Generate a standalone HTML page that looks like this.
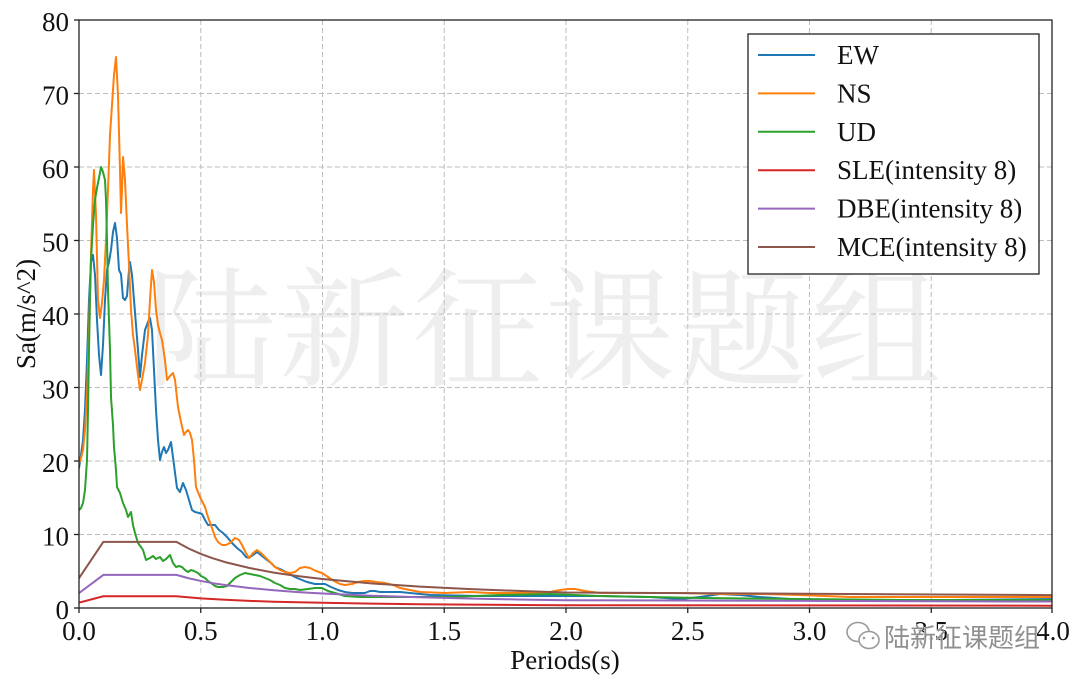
<!DOCTYPE html>
<html>
<head>
<meta charset="utf-8">
<style>
html,body{margin:0;padding:0;background:#fff;}
svg{display:block;}
text{font-family:"Liberation Serif","Noto Serif CJK SC",serif;fill:#111;}
.cjk{font-family:"Liberation Sans","Noto Sans CJK SC",sans-serif;}
.wm{font-family:"Liberation Serif","Noto Serif CJK SC",serif;}
</style>
</head>
<body>
<svg width="1080" height="686" viewBox="0 0 1080 686" xmlns="http://www.w3.org/2000/svg">
<rect x="0" y="0" width="1080" height="686" fill="#fff"/>
<defs>
<clipPath id="pc"><rect x="79" y="20" width="973" height="588"/></clipPath>
</defs>

<!-- watermark -->
<text class="wm" x="146" y="376" font-size="130" style="fill:#eeeeee" letter-spacing="3">陆新征课题组</text>

<!-- grid -->
<g stroke="#bdbdbd" stroke-width="1" stroke-dasharray="5,3" fill="none">
<line x1="200.75" y1="20" x2="200.75" y2="608"/>
<line x1="322.5" y1="20" x2="322.5" y2="608"/>
<line x1="444.25" y1="20" x2="444.25" y2="608"/>
<line x1="566" y1="20" x2="566" y2="608"/>
<line x1="687.75" y1="20" x2="687.75" y2="608"/>
<line x1="809.5" y1="20" x2="809.5" y2="608"/>
<line x1="931.25" y1="20" x2="931.25" y2="608"/>
<line x1="79" y1="534.5" x2="1052" y2="534.5"/>
<line x1="79" y1="461" x2="1052" y2="461"/>
<line x1="79" y1="387.5" x2="1052" y2="387.5"/>
<line x1="79" y1="314" x2="1052" y2="314"/>
<line x1="79" y1="240.5" x2="1052" y2="240.5"/>
<line x1="79" y1="167" x2="1052" y2="167"/>
<line x1="79" y1="93.5" x2="1052" y2="93.5"/>
</g>

<g clip-path="url(#pc)" fill="none" stroke-width="2" stroke-linejoin="round" stroke-linecap="round">
<!-- EW -->
<polyline stroke="#1f77b4" points="79,468 81,455 83,440 85,410 87,360 89,300 91,262 93,255 95,275 97,320 99,355 101,375 103,345 105,300 107,270 109,262 111,250 113,232 115,223 117,238 119,270 121,274 123,298 125,300 127,296 129,270 130,262 132,275 134,300 136,325 138,350 140,377 142,355 145,330 148,322 150,318 152,330 154,370 156,410 158,440 160,460 162,452 164,447 166,453 168,450 171,442 174,465 177,488 180,492 183,483 186,490 189,500 192,510 195,512 199,513 202,514 205,520 208,525 212,525 215,525 219,530 223,533 227,537 232,543 237,548 242,552 246,557 249,558 253,555 257,552 262,556 267,560 271,563 275,567 280,569 284,571 288,573 293,576 297,578 302,580 307,582 311,583 315,584 320,584 325,584 331,587 338,590 345,592 352,593 358,593 365,593 370,591 375,591 380,592 400,592 430,595 480,596 550,596 600,596 650,597 680,599 700,597 720,594 740,595 760,597 790,599 850,601 950,600 1052,599"/>
<!-- NS -->
<polyline stroke="#ff7f0e" points="79,463 81,458 83,450 85,430 87,395 89,330 91,255 93,190 94,170 96,215 98,300 100,318 102,303 104,280 106,240 108,190 110,135 112,105 114,75 116,57 118,95 120,170 121,213 122,190 123,157 125,180 127,225 129,265 131,310 133,335 135,350 138,375 140,390 142,380 145,363 148,335 150,300 152,270 154,282 156,310 158,325 160,333 162,340 165,360 167,380 170,376 173,373 175,380 178,407 181,422 184,435 186,432 188,430 190,433 192,440 194,460 196,487 198,492 200,497 203,503 205,507 208,517 212,528 215,537 218,542 222,545 226,545 230,543 235,538 239,540 242,545 246,553 249,558 253,553 257,550 261,553 265,557 270,562 275,567 280,570 285,572 290,573 295,572 300,568 305,567 310,568 316,571 322,573 328,577 334,581 340,584 345,585 352,584 358,582 364,581 370,581 376,582 385,583 393,585 400,588 410,590 420,592 445,593 470,592 490,593 530,593 550,592 560,590 568,589 575,589 585,591 600,593 680,593 720,594 760,594 800,595 850,597 950,597 1052,597"/>
<!-- UD -->
<polyline stroke="#2ca02c" points="79,510 81,508 83,503 85,490 87,460 88,410 89,350 90,300 91,260 93,225 95,200 97,188 99,178 101,167 103,172 105,180 106,200 107,240 108,290 110,350 111,397 113,425 114,447 116,470 117,487 120,493 123,503 126,510 128,517 131,512 133,525 135,533 138,543 141,547 143,550 146,560 150,558 153,556 156,559 160,557 163,561 166,559 170,555 173,563 176,567 179,566 182,567 185,570 188,572 191,570 194,571 198,573 201,576 205,578 208,581 211,583 215,586 218,587 223,587 227,586 231,582 235,578 240,575 245,573 250,574 255,575 260,576 265,578 270,580 275,583 280,585 285,588 290,589 295,589 300,590 308,589 315,588 322,588 328,591 335,593 345,596 360,597 400,597 450,597 500,595 550,594 600,596 650,597 700,598 800,599 900,600 1052,600"/>
<!-- SLE -->
<polyline stroke="#d62728" points="79,602.7 103.35,596.24 176.4,596.24 200.75,598.4 225.1,599.8 249.45,600.9 273.8,601.7 322.5,602.8 371.2,603.6 419.9,604.2 468.6,604.6 517.3,605 566,605.2 1053,605.7"/>
<!-- DBE -->
<polyline stroke="#9467bd" points="79,593.1 103.35,574.9 176.4,574.9 188.6,578.25 200.75,580.95 212.9,583.2 225.1,585 249.45,588 273.8,590.3 298.15,592.1 322.5,593.5 371.2,595.7 419.9,597.3 468.6,598.5 517.3,599.5 566,600.2 1053,601.55"/>
<!-- MCE -->
<polyline stroke="#8c564b" points="79,578.2 103.35,541.85 176.4,541.85 188.6,548.5 200.75,553.9 212.9,558.3 225.1,562.1 249.45,568 273.8,572.6 298.15,576.1 322.5,579 371.2,583.4 419.9,586.6 468.6,589 517.3,590.9 566,592.5 1053,595.1"/>
</g>

<!-- axes -->
<rect x="79" y="20" width="973" height="588" fill="none" stroke="#222" stroke-width="1.3"/>
<g stroke="#222" stroke-width="1.3">
<line x1="79" y1="608" x2="79" y2="613"/>
<line x1="200.75" y1="608" x2="200.75" y2="613"/>
<line x1="322.5" y1="608" x2="322.5" y2="613"/>
<line x1="444.25" y1="608" x2="444.25" y2="613"/>
<line x1="566" y1="608" x2="566" y2="613"/>
<line x1="687.75" y1="608" x2="687.75" y2="613"/>
<line x1="809.5" y1="608" x2="809.5" y2="613"/>
<line x1="931.25" y1="608" x2="931.25" y2="613"/>
<line x1="1052" y1="608" x2="1052" y2="613"/>
<line x1="74" y1="608" x2="79" y2="608"/>
<line x1="74" y1="534.5" x2="79" y2="534.5"/>
<line x1="74" y1="461" x2="79" y2="461"/>
<line x1="74" y1="387.5" x2="79" y2="387.5"/>
<line x1="74" y1="314" x2="79" y2="314"/>
<line x1="74" y1="240.5" x2="79" y2="240.5"/>
<line x1="74" y1="167" x2="79" y2="167"/>
<line x1="74" y1="93.5" x2="79" y2="93.5"/>
<line x1="74" y1="20" x2="79" y2="20"/>
</g>

<!-- tick labels -->
<g font-size="27" text-anchor="end">
<text x="69" y="619">0</text>
<text x="69" y="545.5">10</text>
<text x="69" y="472">20</text>
<text x="69" y="398.5">30</text>
<text x="69" y="325">40</text>
<text x="69" y="251.5">50</text>
<text x="69" y="178">60</text>
<text x="69" y="104.5">70</text>
<text x="69" y="31">80</text>
</g>
<g font-size="27" text-anchor="middle">
<text x="79" y="640">0.0</text>
<text x="200.75" y="640">0.5</text>
<text x="322.5" y="640">1.0</text>
<text x="444.25" y="640">1.5</text>
<text x="566" y="640">2.0</text>
<text x="687.75" y="640">2.5</text>
<text x="809.5" y="640">3.0</text>
<text x="931.25" y="640">3.5</text>
<text x="1053" y="640">4.0</text>
</g>

<text x="565" y="669" font-size="27" text-anchor="middle">Periods(s)</text>
<text transform="translate(35,314) rotate(-90)" font-size="27" text-anchor="middle">Sa(m/s^2)</text>

<!-- legend -->
<rect x="748" y="34" width="291" height="240" fill="#fff" stroke="#222" stroke-width="1.3"/>
<g stroke-width="2">
<line x1="758" y1="55" x2="815" y2="55" stroke="#1f77b4"/>
<line x1="758" y1="93.4" x2="815" y2="93.4" stroke="#ff7f0e"/>
<line x1="758" y1="131.8" x2="815" y2="131.8" stroke="#2ca02c"/>
<line x1="758" y1="170.2" x2="815" y2="170.2" stroke="#d62728"/>
<line x1="758" y1="208.6" x2="815" y2="208.6" stroke="#9467bd"/>
<line x1="758" y1="247" x2="815" y2="247" stroke="#8c564b"/>
</g>
<g font-size="27">
<text x="837" y="64">EW</text>
<text x="837" y="102.4">NS</text>
<text x="837" y="140.8">UD</text>
<text x="837" y="179.2">SLE(intensity 8)</text>
<text x="837" y="217.6">DBE(intensity 8)</text>
<text x="837" y="256">MCE(intensity 8)</text>
</g>

<!-- bottom-right watermark -->
<g fill="none" stroke="#9a9a9a" stroke-width="1.6">
<ellipse cx="858" cy="632" rx="11" ry="9.5" fill="#fff"/>
<ellipse cx="869" cy="640" rx="10" ry="8.5" fill="#fff"/>
</g>
<circle cx="864" cy="638" r="1.3" fill="#9a9a9a"/>
<circle cx="873" cy="638" r="1.3" fill="#9a9a9a"/>
<text class="cjk" x="884" y="647" font-size="26" style="fill:#8f8f8f;stroke:#fff;stroke-width:0.6;paint-order:stroke">陆新征课题组</text>
</svg>
</body>
</html>
